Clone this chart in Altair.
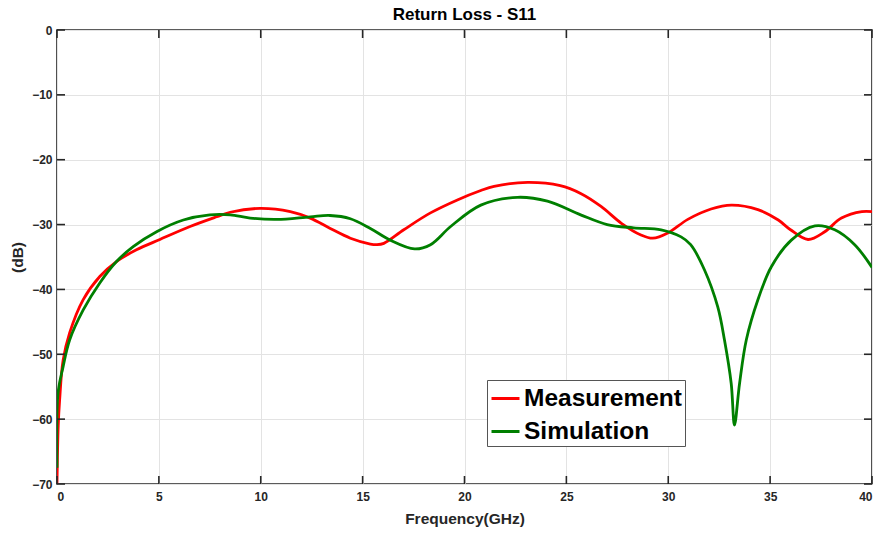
import altair as alt
import pandas as pd

# ---- data ----
meas_f = [0, 0.06, 0.13, 0.3, 0.62, 1.28, 2.1, 2.92, 3.9, 5.05, 6.53, 7.84, 8.5, 9.97,
          11.45, 12.43, 13.41, 14.4, 15.38, 15.7, 16.04, 17.02, 18.33, 19.65, 20.8, 21.45,
          23.1, 24.7, 25.7, 26.7, 27.7, 28.66, 29.24, 29.98, 30.96, 32.1, 33.1, 34.4,
          35.4, 36.0, 36.86, 37.68, 38.5, 39.5, 40]
meas_db = [-70, -61, -57, -50.9, -46.7, -41.6, -38, -35.7, -33.9, -32.3, -30.3, -28.8, -28.1, -27.5,
           -28, -29, -30.6, -32.1, -33, -33.1, -32.9, -30.8, -28.2, -26.2, -24.75, -24.1,
           -23.5, -24.0, -25.2, -27.2, -29.8, -31.6, -32.1, -31.3, -29.2, -27.6, -27.0, -27.7,
           -29.3, -30.8, -32.3, -31.1, -29.0, -28.0, -28.0]

sim_f = [0, 0.05, 0.3, 0.62, 1.28, 2.1, 2.92, 3.74, 4.89, 6.2, 7.5, 8.5, 9.48, 10.8, 12.43,
         13.4, 14.4, 15.38, 16.36, 17.55, 18.33, 19.32, 20.8, 22.6, 24.07, 25.7, 27.0, 28.3,
         29.65, 30.63, 31.1, 31.78, 32.43, 32.76, 33.09, 33.25, 33.5, 33.83, 34.4, 35.06,
         36.04, 37.2, 38.17, 39.15, 40]
sim_db = [-67.5, -56, -51.9, -47.8, -43.2, -39, -35.7, -33.4, -31.1, -29.3, -28.5, -28.5, -29.0,
          -29.2, -28.8, -28.6, -29.1, -30.6, -32.4, -33.75, -33.1, -30.3, -27, -25.8, -26.4,
          -28.5, -30.0, -30.5, -30.8, -31.9, -33.1, -37, -42.7, -47.8, -54.5, -60.9, -54.5,
          -47.8, -41.6, -36.5, -32.4, -30.2, -30.8, -33.1, -36.6]

series_names = ["Measurement", "Simulation"]
series_colors = ["#FF0000", "#007F00"]

x_ticks = [0, 5, 10, 15, 20, 25, 30, 35, 40]
y_ticks = [-70, -60, -50, -40, -30, -20, -10, 0]

W, H = 815, 454
FONT = "Liberation Sans"
TL = 8  # inward tick length

df = pd.concat([
    pd.DataFrame({"f": meas_f, "db": meas_db, "s": series_names[0]}),
    pd.DataFrame({"f": sim_f, "db": sim_db, "s": series_names[1]}),
])
xt = pd.DataFrame({"v": x_ticks})
yt = pd.DataFrame({"v": y_ticks})

xscale = alt.Scale(domain=[0, 40], nice=False, zero=False)
yscale = alt.Scale(domain=[-70, 0], nice=False, zero=False)

lines = alt.Chart(df).mark_line(strokeWidth=2.8, interpolate="catmull-rom", clip=True).encode(
    x=alt.X("f:Q", scale=xscale,
            axis=alt.Axis(values=x_ticks, title="Frequency(GHz)", format="d")),
    y=alt.Y("db:Q", scale=yscale,
            axis=alt.Axis(values=y_ticks, title="(dB)", format="d")),
    color=alt.Color("s:N", scale=alt.Scale(domain=series_names, range=series_colors),
                    legend=alt.Legend(title=None)),
)

tick_style = dict(color="#262626", strokeWidth=1.6)
xb = alt.Chart(xt).mark_rule(**tick_style).encode(x=alt.X("v:Q", scale=xscale), y=alt.value(H), y2=alt.value(H - TL))
xtp = alt.Chart(xt).mark_rule(**tick_style).encode(x=alt.X("v:Q", scale=xscale), y=alt.value(0), y2=alt.value(TL))
yl = alt.Chart(yt).mark_rule(**tick_style).encode(y=alt.Y("v:Q", scale=yscale), x=alt.value(0), x2=alt.value(TL))
yr = alt.Chart(yt).mark_rule(**tick_style).encode(y=alt.Y("v:Q", scale=yscale), x=alt.value(W), x2=alt.value(W - TL))

chart = alt.layer(lines, xb, xtp, yl, yr).properties(
    width=W, height=H,
    title=alt.TitleParams("Return Loss - S11", font=FONT, fontSize=17, fontWeight="bold",
                          color="#000000", offset=0, anchor="middle"),
    padding={"left": 57, "top": 30, "right": 1, "bottom": 51},
    autosize=alt.AutoSizeParams(type="none"),
).configure_view(
    stroke="#262626", strokeWidth=1.6
).configure_axis(
    domain=False, ticks=False, grid=True, gridColor="#E3E3E3", gridWidth=1,
    labelFont=FONT, labelFontSize=12, labelFontWeight="bold", labelColor="#262626",
    titleFont=FONT, titleFontSize=15.5, titleFontWeight="bold", titleColor="#262626",
).configure_axisX(
    labelPadding=7, titlePadding=9
).configure_axisY(
    labelPadding=5, titlePadding=6
).configure_legend(
    orient="none", legendX=430, legendY=350,
    strokeColor="#555555", fillColor="#FFFFFF", padding=3,
    labelFont=FONT, labelFontSize=24.5, labelFontWeight="bold", labelColor="#000000",
    symbolType="stroke", symbolSize=784, symbolStrokeWidth=3, labelOffset=3,
    rowPadding=6,
)

chart.save("out.html", embed_options={"renderer": "svg", "actions": False})
